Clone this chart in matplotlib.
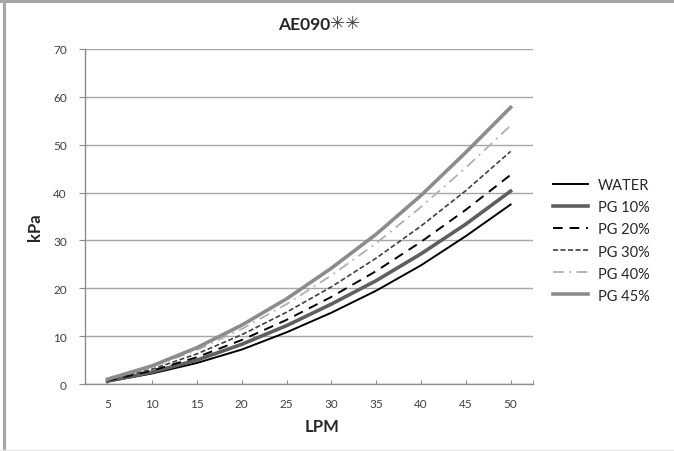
import matplotlib
matplotlib.use("Agg")
import matplotlib.pyplot as plt
from matplotlib.lines import Line2D

lpm = [5, 10, 15, 20, 25, 30, 35, 40, 45, 50]
water = [0.5, 2.2, 4.4, 7.2, 10.8, 14.9, 19.5, 24.8, 30.9, 37.5]
pg10 = [0.6, 2.5, 5.0, 8.3, 12.2, 16.7, 21.6, 27.2, 33.4, 40.3]
pg20 = [0.7, 2.8, 5.6, 9.2, 13.4, 18.2, 23.6, 29.7, 36.4, 43.7]
pg30 = [0.8, 3.1, 6.3, 10.3, 15.0, 20.3, 26.3, 33.0, 40.4, 48.6]
pg40 = [0.9, 3.6, 7.1, 11.5, 16.7, 22.7, 29.4, 37.0, 45.2, 54.0]
pg45 = [1.0, 3.8, 7.6, 12.3, 17.8, 24.2, 31.3, 39.4, 48.4, 57.8]
labels = ["WATER", "PG 10%", "PG 20%", "PG 30%", "PG 40%", "PG 45%"]
yticks = [0, 10, 20, 30, 40, 50, 60, 70]

plt.rcParams['font.family'] = ['Lato', 'DejaVu Sans']

fig = plt.figure(figsize=(6.74, 4.52), dpi=100)
W, H = 674, 452
ax = fig.add_axes([85 / W, 1 - 385 / H, (533 - 85) / W, (385 - 50) / H])

styles = [
    dict(color='black', lw=1.4, ls='-'),
    dict(color='#5f5f5f', lw=2.6, ls='-'),
    dict(color='black', lw=1.4, ls=(0, (5, 3.5))),
    dict(color='#404040', lw=1.2, ls=(0, (3, 1.5))),
    dict(color='#b0b0b0', lw=1.3, ls=(0, (6, 3, 1, 3))),
    dict(color='#8c8c8c', lw=2.6, ls='-'),
]
series = [water, pg10, pg20, pg30, pg40, pg45]
handles = []
for s, st, lab in zip(series, styles, labels):
    h, = ax.plot(lpm, s, label=lab, zorder=3, **st)
    handles.append(h)

ax.set_xlim(2.5, 52.5)
ax.set_ylim(0, 70)
ax.set_yticks(yticks)
ax.set_xticks(lpm)
ax.set_xticks([52.5], minor=True)
ax.grid(axis='y', color='#a6a6a6', lw=1.0)
ax.set_axisbelow(True)
for sp in ['top', 'right']:
    ax.spines[sp].set_visible(False)
for sp in ['left', 'bottom']:
    ax.spines[sp].set_color('#8c8c8c')
    ax.spines[sp].set_linewidth(1.0)
ax.tick_params(axis='y', direction='out', length=4, color='#8c8c8c', labelsize=8.5, labelcolor='#404040', pad=9)
ax.tick_params(axis='x', which='both', direction='in', length=3, color='#8c8c8c', labelsize=8.5, labelcolor='#404040', pad=10)

fig.text(35 / W, 1 - 227 / H, 'kPa', rotation=90, ha='center', va='center', fontsize=12, fontweight='bold', color='#262626')
fig.text(322 / W, 1 - 427 / H, 'LPM', ha='center', va='center', fontsize=12, fontweight='bold', color='#262626')
fig.text(330 / W, 1 - 25 / H, 'AE090', ha='right', va='center', fontsize=12.5, fontweight='bold', color='#262626')
fig.text(330 / W, 1 - 24 / H, '\u2733\u2733', ha='left', va='center', fontsize=13, color='#404040', family=['DejaVu Sans'])

fig.legend(handles=handles, loc='center left', bbox_to_anchor=(553 / W, 1 - 241.5 / H),
           frameon=False, fontsize=10.5, handlelength=2.4, handletextpad=0.7,
           labelspacing=0.55, borderpad=0, borderaxespad=0, labelcolor='#262626')

fig.add_artist(Line2D([0, 1], [1 - 2 / H, 1 - 2 / H], transform=fig.transFigure, color='#a6a6a6', lw=2.2))
fig.add_artist(Line2D([3.8 / W, 3.8 / W], [0, 1], transform=fig.transFigure, color='#a6a6aa', lw=2.2))
fig.add_artist(Line2D([0, 1], [0.7 / H, 0.7 / H], transform=fig.transFigure, color='#e6e6e6', lw=1))

fig.savefig('out.png', dpi=100)
